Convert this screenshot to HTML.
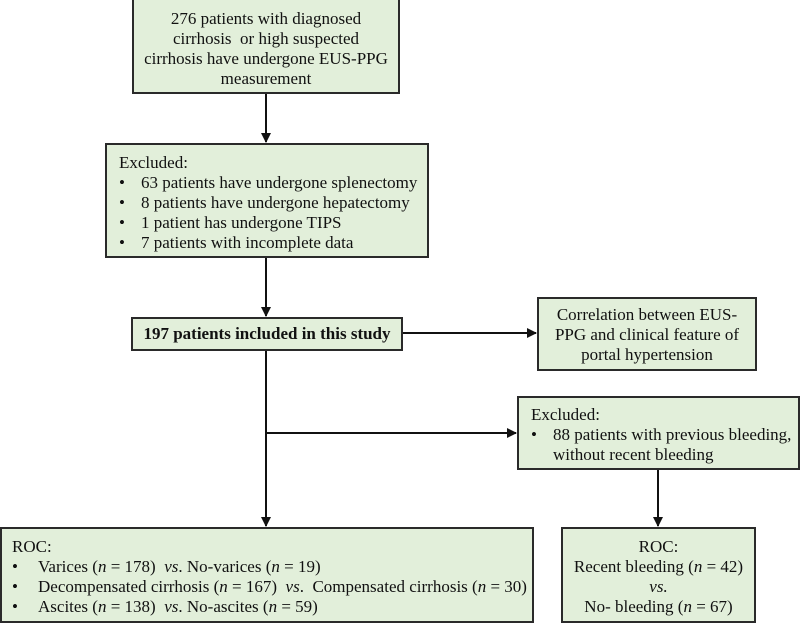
<!DOCTYPE html>
<html><head><style>
body{margin:0;width:800px;height:622px;background:#fff;position:relative;overflow:hidden;font-family:"Liberation Serif",serif;color:#111;}
.b{position:absolute;box-sizing:border-box;background:#e2efda;border:2px solid #2a2a2a;font-size:17px;line-height:20px;}
.c{text-align:center;}
.li{position:relative;padding-left:22px;white-space:nowrap;}
.li:before{content:"•";position:absolute;left:0;}
svg{position:absolute;left:0;top:0;}
</style></head><body>
<svg width="800" height="622">
<defs><marker id="a" markerWidth="10" markerHeight="10" refX="9" refY="5" orient="auto" markerUnits="userSpaceOnUse"><path d="M0,0 L10,5 L0,10 z" fill="#111"/></marker></defs>
<g stroke="#111" stroke-width="2" fill="none">
<line x1="266" y1="94" x2="266" y2="142" marker-end="url(#a)"/>
<line x1="266" y1="257" x2="266" y2="316" marker-end="url(#a)"/>
<line x1="402" y1="333" x2="536" y2="333" marker-end="url(#a)"/>
<line x1="266" y1="350" x2="266" y2="526" marker-end="url(#a)"/>
<line x1="266" y1="433" x2="516" y2="433" marker-end="url(#a)"/>
<line x1="658" y1="469" x2="658" y2="526" marker-end="url(#a)"/>
</g></svg>
<div class="b c" style="left:132px;top:-2px;width:268px;height:96px;padding-top:9px;">276 patients with diagnosed<br>cirrhosis&nbsp; or high suspected<br>cirrhosis have undergone EUS-PPG<br>measurement</div>
<div class="b" style="left:105px;top:143px;width:324px;height:115px;padding:8px 0 0 12px;">Excluded:
<div class="li">63 patients have undergone splenectomy</div>
<div class="li">8 patients have undergone hepatectomy</div>
<div class="li">1 patient has undergone TIPS</div>
<div class="li">7 patients with incomplete data</div></div>
<div class="b c" style="left:131px;top:317px;width:272px;height:34px;padding-top:5px;font-weight:bold;">197 patients included in this study</div>
<div class="b c" style="left:537px;top:297px;width:220px;height:74px;padding-top:6px;">Correlation between EUS-<br>PPG and clinical feature of<br>portal hypertension</div>
<div class="b" style="left:517px;top:396px;width:283px;height:74px;padding:7px 0 0 12px;">Excluded:
<div class="li" style="padding-left:22px">88 patients with previous bleeding,<br>without recent bleeding</div></div>
<div class="b" style="left:0;top:527px;width:534px;height:96px;padding:8px 0 0 10px;">ROC:
<div class="li" style="padding-left:26px">Varices (<i>n</i> = 178)&nbsp; <i>vs</i>. No-varices (<i>n</i> = 19)</div>
<div class="li" style="padding-left:26px">Decompensated cirrhosis (<i>n</i> = 167)&nbsp; <i>vs</i>.&nbsp; Compensated cirrhosis (<i>n</i> = 30)</div>
<div class="li" style="padding-left:26px">Ascites (<i>n</i> = 138)&nbsp; <i>vs</i>. No-ascites (<i>n</i> = 59)</div></div>
<div class="b c" style="left:561px;top:527px;width:195px;height:96px;padding-top:8px;">ROC:<br>Recent bleeding (<i>n</i> = 42)<br><i>vs.</i><br>No- bleeding (<i>n</i> = 67)</div>
</body></html>
